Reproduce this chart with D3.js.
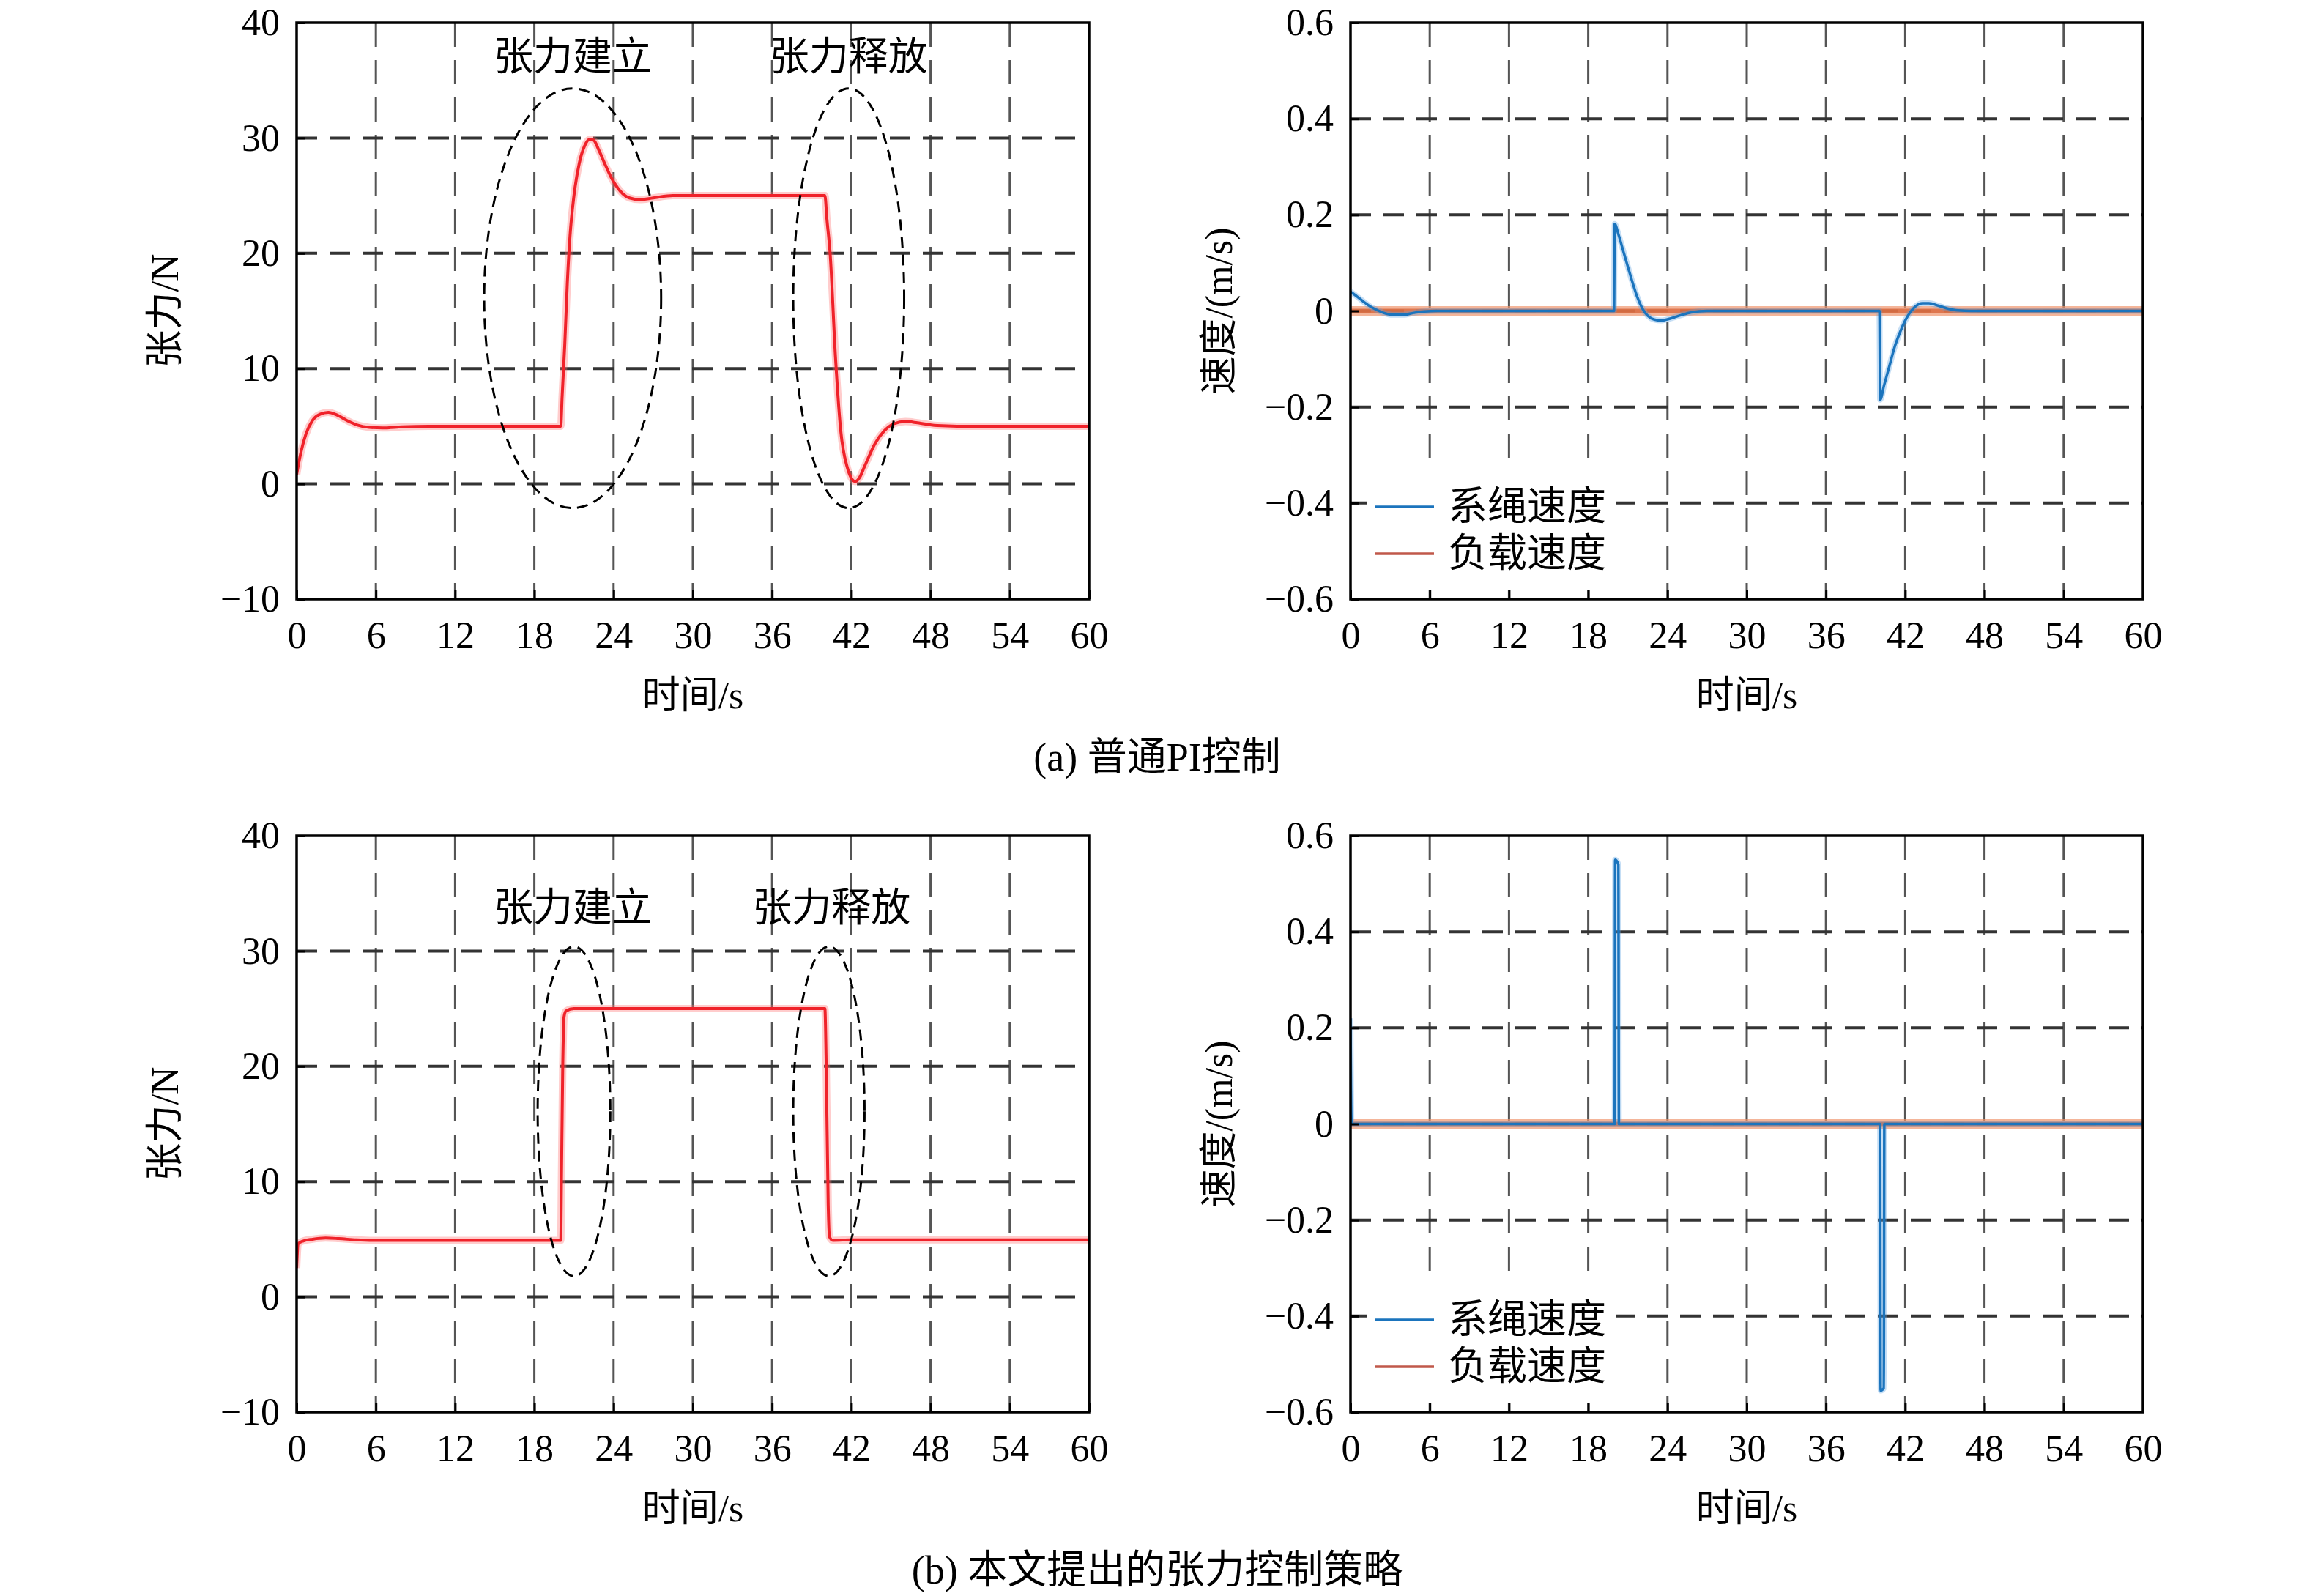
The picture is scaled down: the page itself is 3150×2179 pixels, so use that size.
<!DOCTYPE html>
<html>
<head>
<meta charset="utf-8">
<script src="https://cdn.jsdelivr.net/npm/d3@7"></script>
<style>
  body { margin: 0; background: #fff; }
</style>
</head>
<body>
<svg id="chart" width="3150" height="2179"></svg>
<script>
// ---- data ----
const timeTicks = [0, 6, 12, 18, 24, 30, 36, 42, 48, 54, 60];
const tensionTicks = [-10, 0, 10, 20, 30, 40];
const speedTicks = [-0.6, -0.4, -0.2, 0, 0.2, 0.4, 0.6];

// (a) PI control: tension [t, N]
const piTension = [
  [0, 0.8], [0.3, 2.6], [0.7, 4.3], [1.2, 5.5], [1.8, 6.05], [2.4, 6.2], [3.0, 6.0],
  [3.8, 5.5], [4.6, 5.1], [5.5, 4.9], [6.5, 4.85], [8, 4.95], [10, 5.0], [20, 5.0],
  [20.1, 7.5], [20.3, 12], [20.5, 17.5], [20.7, 21.5], [21.0, 25], [21.4, 27.8],
  [21.8, 29.3], [22.2, 29.9], [22.5, 29.8], [22.9, 28.9], [23.4, 27.6], [23.9, 26.4],
  [24.5, 25.4], [25.2, 24.8], [26.0, 24.65], [27.0, 24.8], [28.5, 25.0], [40, 25.0],
  [40.15, 23], [40.4, 19.9], [40.8, 11], [41.2, 4.6], [41.7, 1.4], [42.0, 0.5],
  [42.3, 0.2], [42.6, 0.5], [43.0, 1.5], [43.8, 3.5], [44.5, 4.6], [45.2, 5.2],
  [46.1, 5.4], [47, 5.3], [48.5, 5.05], [50, 5.0], [60, 5.0]
];
// (a) PI control: tether speed and load speed [t, m/s]
const piRopeSpeed = [
  [0, 0.04], [0.5, 0.03], [1, 0.019], [1.5, 0.009], [2, 0.002], [2.5, -0.004],
  [3.2, -0.008], [4, -0.008], [4.8, -0.004], [5.6, -0.001], [6.5, 0], [19.95, 0],
  [20.0, 0.181], [20.3, 0.158], [20.7, 0.12], [21.0, 0.092], [21.4, 0.055], [21.7, 0.03],
  [22.1, 0.005], [22.5, -0.01], [23.0, -0.018], [23.5, -0.02], [24.2, -0.016],
  [25, -0.009], [25.8, -0.003], [27, 0], [40.05, 0], [40.1, -0.185], [40.4, -0.155],
  [40.8, -0.115], [41.2, -0.075], [41.6, -0.045], [42.0, -0.02], [42.4, -0.002],
  [42.8, 0.01], [43.3, 0.016], [43.8, 0.016], [44.5, 0.011], [45.2, 0.005],
  [46, 0.001], [47, 0], [60, 0]
];
const piLoadSpeed = [[0, 0], [60, 0]];

// (b) proposed strategy
const newTension = [
  [0, 2.5], [0.12, 4.6], [0.5, 4.85], [1.2, 5.0], [2.2, 5.1], [3.2, 5.05], [4.5, 4.95],
  [6, 4.9], [20, 4.9], [20.05, 10], [20.15, 20], [20.25, 24.3], [20.4, 24.8], [21, 25.0],
  [40, 25.0], [40.1, 20], [40.25, 8], [40.35, 5.2], [40.6, 4.9], [42, 4.95], [60, 4.95]
];
const newRopeSpeed = [
  [0, 0.22], [0.08, 0], [20.0, 0], [20.04, 0.55], [20.28, 0.54], [20.32, 0],
  [40.1, 0], [40.14, -0.555], [40.38, -0.55], [40.42, 0], [60, 0]
];
const newLoadSpeed = [[0, 0], [60, 0]];

// annotation ellipses and labels, in data units
const piEllipses = [
  { cx: 20.9, cy: 16.1, rx: 6.7, ry: 18.2 },
  { cx: 41.8, cy: 16.1, rx: 4.2, ry: 18.2 }
];
const newEllipses = [
  { cx: 21.0, cy: 16.1, rx: 2.75, ry: 14.3 },
  { cx: 40.3, cy: 16.1, rx: 2.7, ry: 14.3 }
];
const piNotes = [
  { t: 20.9, v: 37.0, text: "张力建立" },
  { t: 41.8, v: 37.0, text: "张力释放" }
];
const newNotes = [
  { t: 20.9, v: 33.7, text: "张力建立" },
  { t: 40.5, v: 33.7, text: "张力释放" }
];
const legendNames = ["系绳速度", "负载速度"];
const captions = ["(a) 普通PI控制", "(b) 本文提出的张力控制策略"];

// ---- layout ----
const FONT = "'Liberation Serif', 'Times New Roman', 'Noto Sans CJK SC', serif";
const W = 1082, H = 787;
const RED = "#f0222a", BLUE = "#1b74bd", ORANGE = "#d8683c";

const svg = d3.select("#chart");
let clipCount = 0;

function makePanel(left, top, yDomain) {
  const g = svg.append("g").attr("transform", `translate(${left},${top})`);
  const x = d3.scaleLinear().domain([0, 60]).range([0, W]);
  const y = d3.scaleLinear().domain(yDomain).range([H, 0]);
  const id = "clip" + (clipCount++);
  g.append("clipPath").attr("id", id)
    .append("rect").attr("width", W).attr("height", H);
  return { g, x, y, clip: `url(#${id})` };
}

function drawGrid(p, yTicks) {
  const { g, x, y } = p;
  g.append("g").selectAll("line")
    .data(timeTicks.slice(1, -1))
    .join("line")
    .attr("x1", d => x(d)).attr("x2", d => x(d))
    .attr("y1", 0).attr("y2", H)
    .attr("stroke", "#555").attr("stroke-width", 3)
    .attr("stroke-dasharray", "33,18");
  g.append("g").selectAll("line")
    .data(yTicks.slice(1, -1))
    .join("line")
    .attr("x1", 0).attr("x2", W)
    .attr("y1", d => y(d)).attr("y2", d => y(d))
    .attr("stroke", "#333").attr("stroke-width", 4)
    .attr("stroke-dasharray", "28,17");
}

function drawAxes(p, yTicks, yFormat, yTitle) {
  const { g, x, y } = p;
  g.append("rect")
    .attr("width", W).attr("height", H)
    .attr("fill", "none").attr("stroke", "#000").attr("stroke-width", 3.5);

  const xAxis = g.append("g")
    .attr("transform", `translate(0,${H})`)
    .call(d3.axisBottom(x).tickValues(timeTicks).tickSizeInner(-12).tickSizeOuter(0).tickPadding(30));
  const yAxis = g.append("g")
    .call(d3.axisLeft(y).tickValues(yTicks).tickFormat(yFormat).tickSizeInner(-12).tickSizeOuter(0).tickPadding(23));

  [xAxis, yAxis].forEach(a => {
    a.attr("font-family", FONT).attr("font-size", 52);
    a.select(".domain").remove();
    a.selectAll(".tick line").attr("stroke", "#000").attr("stroke-width", 3);
    a.selectAll(".tick text").attr("fill", "#000");
  });

  g.append("text")
    .attr("x", W / 2).attr("y", H + 131)
    .attr("text-anchor", "middle").attr("dominant-baseline", "central")
    .attr("font-family", FONT).attr("font-size", 52)
    .text("时间/s");
  g.append("text")
    .attr("transform", `translate(-180,${H / 2}) rotate(-90)`)
    .attr("text-anchor", "middle").attr("dominant-baseline", "central")
    .attr("font-family", FONT).attr("font-size", 52)
    .text(yTitle);
}

function drawCurve(p, data, color, width, haloColor, haloWidth, opacity) {
  const { g, x, y } = p;
  const line = d3.line()
    .x(d => x(d[0])).y(d => y(d[1]))
    .curve(d3.curveMonotoneX);
  const cg = g.append("g").attr("clip-path", p.clip);
  cg.append("path")
    .attr("d", line(data)).attr("fill", "none")
    .attr("stroke", haloColor).attr("stroke-width", haloWidth)
    .attr("stroke-linejoin", "round");
  cg.append("path")
    .attr("d", line(data)).attr("fill", "none")
    .attr("stroke", color).attr("stroke-width", width)
    .attr("stroke-opacity", opacity)
    .attr("stroke-linejoin", "round");
}

function drawTensionPanel(left, top, series, ellipses, notes) {
  const p = makePanel(left, top, [-10, 40]);
  drawGrid(p, tensionTicks);
  drawCurve(p, series, RED, 4, "rgba(255,110,110,0.35)", 10, 1);

  p.g.append("g").selectAll("ellipse")
    .data(ellipses)
    .join("ellipse")
    .attr("cx", d => p.x(d.cx)).attr("cy", d => p.y(d.cy))
    .attr("rx", d => p.x(d.rx) - p.x(0)).attr("ry", d => p.y(0) - p.y(d.ry))
    .attr("fill", "none").attr("stroke", "#000").attr("stroke-width", 3)
    .attr("stroke-dasharray", "15,9");

  p.g.append("g").selectAll("text")
    .data(notes)
    .join("text")
    .attr("x", d => p.x(d.t)).attr("y", d => p.y(d.v))
    .attr("text-anchor", "middle").attr("dominant-baseline", "central")
    .attr("font-family", FONT).attr("font-size", 54)
    .text(d => d.text);

  drawAxes(p, tensionTicks, d3.format("d"), "张力/N");
}

function drawSpeedPanel(left, top, rope, load) {
  const p = makePanel(left, top, [-0.6, 0.6]);
  drawGrid(p, speedTicks);
  drawCurve(p, load, ORANGE, 6, "rgba(240,150,110,0.7)", 13, 0.8);
  drawCurve(p, rope, BLUE, 3.5, "rgba(90,160,225,0.35)", 8, 1);

  // legend, white box hides the grid behind it
  const lg = p.g.append("g");
  lg.append("rect")
    .attr("x", 22).attr("y", 609).attr("width", 340).attr("height", 165)
    .attr("fill", "#fff");
  const colors = [BLUE, "#c0584a"];
  legendNames.forEach((name, i) => {
    const ly = 661 + i * 64;
    lg.append("line")
      .attr("x1", 33).attr("x2", 114).attr("y1", ly).attr("y2", ly)
      .attr("stroke", colors[i]).attr("stroke-width", 3.5);
    lg.append("text")
      .attr("x", 133).attr("y", ly)
      .attr("dominant-baseline", "central")
      .attr("font-family", FONT).attr("font-size", 54)
      .text(name);
  });

  const fmt = d => d === 0 ? "0" : d3.format(".1f")(d);
  drawAxes(p, speedTicks, fmt, "速度/(m/s)");
}

drawTensionPanel(405, 31, piTension, piEllipses, piNotes);
drawSpeedPanel(1844, 31, piRopeSpeed, piLoadSpeed);
drawTensionPanel(405, 1141, newTension, newEllipses, newNotes);
drawSpeedPanel(1844, 1141, newRopeSpeed, newLoadSpeed);

svg.selectAll("text.caption")
  .data(captions)
  .join("text")
  .attr("class", "caption")
  .attr("x", 1580).attr("y", (d, i) => i === 0 ? 1034 : 2144)
  .attr("text-anchor", "middle").attr("dominant-baseline", "central")
  .attr("font-family", FONT).attr("font-size", 54)
  .text(d => d);
</script>
</body>
</html>
